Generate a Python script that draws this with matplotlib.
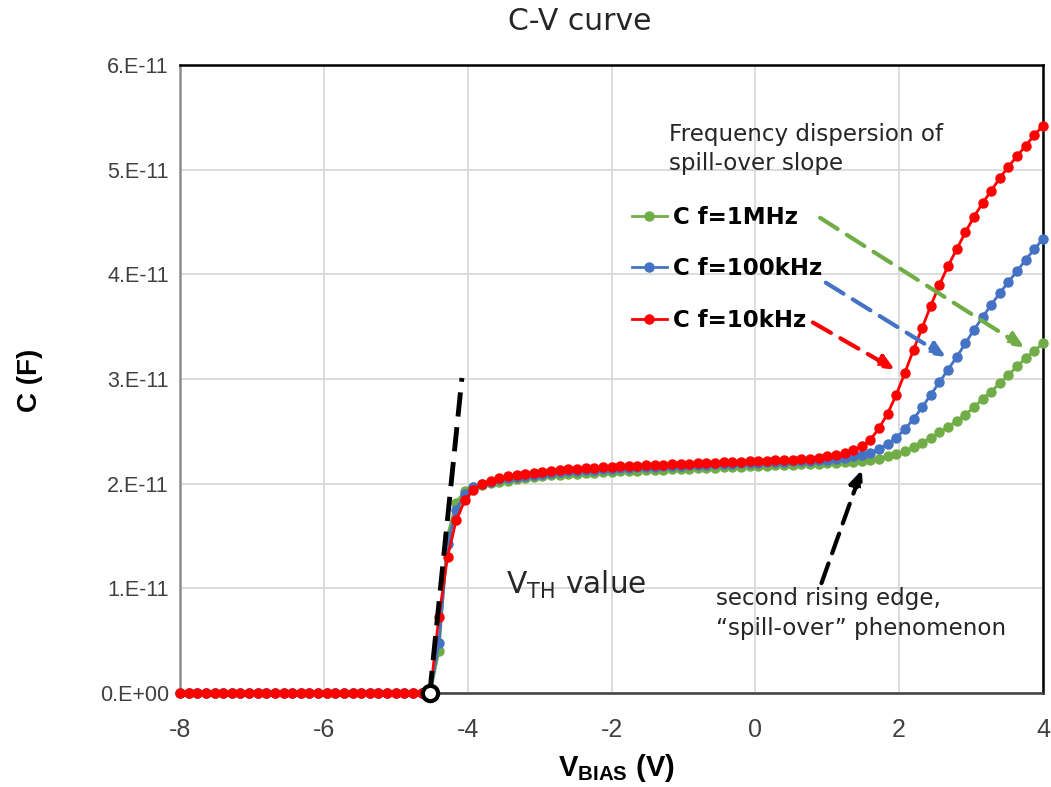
import numpy as np
import matplotlib
matplotlib.use('Agg')
import matplotlib.pyplot as plt
from matplotlib import font_manager

# bias sweep (V), 0.12 V steps
v_bias = [-8.00, -7.88, -7.76, -7.64, -7.52, -7.40, -7.28, -7.16, -7.04, -6.92,
          -6.80, -6.68, -6.56, -6.44, -6.32, -6.20, -6.08, -5.96, -5.84, -5.72,
          -5.60, -5.48, -5.36, -5.24, -5.12, -5.00, -4.88, -4.76, -4.64, -4.52,
          -4.40, -4.28, -4.16, -4.04, -3.92, -3.80, -3.68, -3.56, -3.44, -3.32,
          -3.20, -3.08, -2.96, -2.84, -2.72, -2.60, -2.48, -2.36, -2.24, -2.12,
          -2.00, -1.88, -1.76, -1.64, -1.52, -1.40, -1.28, -1.16, -1.04, -0.92,
          -0.80, -0.68, -0.56, -0.44, -0.32, -0.20, -0.08, 0.04, 0.16, 0.28,
          0.40, 0.52, 0.64, 0.76, 0.88, 1.00, 1.12, 1.24, 1.36, 1.48,
          1.60, 1.72, 1.84, 1.96, 2.08, 2.20, 2.32, 2.44, 2.56, 2.68,
          2.80, 2.92, 3.04, 3.16, 3.28, 3.40, 3.52, 3.64, 3.76, 3.88, 4.00]

# capacitance, in units of 1e-11 F
c_1mhz = [0]*30 + [
    0.40, 1.50, 1.82, 1.93, 1.97, 1.99, 2.01, 2.02, 2.03, 2.04,
    2.05, 2.06, 2.07, 2.08, 2.08, 2.09, 2.09, 2.10, 2.10, 2.11,
    2.11, 2.12, 2.12, 2.12, 2.13, 2.13, 2.13, 2.14, 2.14, 2.14,
    2.15, 2.15, 2.15, 2.16, 2.16, 2.16, 2.17, 2.17, 2.17, 2.18,
    2.18, 2.18, 2.19, 2.19, 2.19, 2.20, 2.20, 2.21, 2.21, 2.22,
    2.23, 2.24, 2.26, 2.28, 2.31, 2.35, 2.39, 2.44, 2.49, 2.54,
    2.60, 2.66, 2.73, 2.81, 2.88, 2.96, 3.04, 3.12, 3.20, 3.27, 3.34]
c_100khz = [0]*30 + [
    0.48, 1.42, 1.75, 1.90, 1.97, 2.00, 2.02, 2.04, 2.05, 2.06,
    2.07, 2.08, 2.09, 2.10, 2.11, 2.12, 2.12, 2.13, 2.13, 2.14,
    2.14, 2.15, 2.15, 2.16, 2.16, 2.16, 2.17, 2.17, 2.17, 2.18,
    2.18, 2.18, 2.19, 2.19, 2.19, 2.20, 2.20, 2.20, 2.21, 2.21,
    2.21, 2.22, 2.22, 2.22, 2.23, 2.23, 2.24, 2.25, 2.26, 2.27,
    2.29, 2.33, 2.38, 2.44, 2.52, 2.62, 2.73, 2.85, 2.97, 3.09,
    3.21, 3.34, 3.47, 3.59, 3.71, 3.82, 3.93, 4.03, 4.14, 4.24, 4.34]
c_10khz = [0]*30 + [
    0.73, 1.30, 1.65, 1.84, 1.94, 2.00, 2.03, 2.05, 2.07, 2.08,
    2.09, 2.10, 2.11, 2.12, 2.13, 2.14, 2.14, 2.15, 2.15, 2.16,
    2.16, 2.17, 2.17, 2.17, 2.18, 2.18, 2.18, 2.19, 2.19, 2.19,
    2.20, 2.20, 2.20, 2.21, 2.21, 2.21, 2.22, 2.22, 2.22, 2.23,
    2.23, 2.23, 2.24, 2.24, 2.25, 2.26, 2.27, 2.29, 2.32, 2.36,
    2.42, 2.53, 2.67, 2.85, 3.06, 3.28, 3.49, 3.70, 3.90, 4.08,
    4.24, 4.40, 4.55, 4.68, 4.80, 4.92, 5.03, 5.13, 5.23, 5.33, 5.42]

series_labels = ['C f=1MHz', 'C f=100kHz', 'C f=10kHz']
series_colors = ['#70AD47', '#4472C4', '#FF0000']

y_ticks = [0, 1e-11, 2e-11, 3e-11, 4e-11, 5e-11, 6e-11]
y_tick_labels = ['0.E+00', '1.E-11', '2.E-11', '3.E-11', '4.E-11', '5.E-11', '6.E-11']
x_ticks = [-8, -6, -4, -2, 0, 2, 4]

# annotation arrows: (start, end) in data units, y in 1e-11
arrows = [
    ((0.90, 4.54), (3.74, 3.30), '#70AD47'),
    ((0.98, 3.92), (2.65, 3.21), '#4472C4'),
    ((0.80, 3.54), (1.94, 3.09), '#FF0000'),
    ((0.92, 1.05), (1.48, 2.13), 'black'),
]
vth_line = ((-4.53, -0.02), (-4.08, 3.01))
vth_point = (-4.52, 0.0)

plt.rcParams['axes.unicode_minus'] = False

installed = {f.name for f in font_manager.fontManager.ttflist}
narrow = 'Liberation Sans Narrow' if 'Liberation Sans Narrow' in installed else 'Liberation Sans'
note_font = 'DejaVu Sans'

fig = plt.figure(figsize=(10.51, 7.87), dpi=100)
ax = fig.add_axes([180/1051, 94/787, 863/1051, 628/787])

x = np.array(v_bias)
for vals, lab, col in zip([c_1mhz, c_100khz, c_10khz], series_labels, series_colors):
    ax.plot(x, np.array(vals)*1e-11, '-o', color=col, lw=2, ms=6.5,
            label=lab, clip_on=False, zorder=3)

ax.set_xlim(-8, 4)
ax.set_ylim(0, 6e-11)
ax.set_xticks(x_ticks)
ax.set_yticks(y_ticks)
ax.set_yticklabels(y_tick_labels)
ax.grid(True, color='#d9d9d9', lw=1.3)
ax.set_axisbelow(True)
ax.tick_params(axis='both', length=0, colors='#404040')
ax.tick_params(axis='y', pad=8, labelsize=15.5)
ax.tick_params(axis='x', pad=18, labelsize=18)
for t in ax.get_yticklabels():
    t.set_fontfamily('Liberation Sans')
for t in ax.get_xticklabels():
    t.set_fontfamily(narrow)
ax.spines['left'].set_color('#8c8c8c')
ax.spines['bottom'].set_color('#404040')
ax.spines['top'].set_color('black')
ax.spines['right'].set_color('black')
for s in ax.spines.values():
    s.set_linewidth(1.8)

# dashed guide lines with arrow heads
for (x0, y0), (x1, y1), col in arrows:
    ax.annotate('', xy=(x1, y1*1e-11), xytext=(x0, y0*1e-11),
                arrowprops=dict(arrowstyle='-|>,head_length=0.9,head_width=0.4',
                                color=col, lw=3, linestyle=(0, (5, 2.6)),
                                shrinkA=0, shrinkB=0), zorder=4)

(lx0, ly0), (lx1, ly1) = vth_line
ax.plot([lx0, lx1], [ly0*1e-11, ly1*1e-11], color='black', lw=3.5,
        dashes=(5, 2.2), zorder=4, clip_on=False)
ax.plot([vth_point[0]], [vth_point[1]], 'o', ms=11, mfc='white', mec='black',
        mew=3, zorder=5, clip_on=False)

ax.text(-3.47, 1.03e-11, r'$\mathregular{V_{TH}}$ value', fontsize=21.3,
        family=note_font, color='#262626', va='center', ha='left')
ax.text(-1.20, 5.20e-11, 'Frequency dispersion of\nspill-over slope', fontsize=16.6,
        family=note_font, color='#262626', va='center', ha='left', linespacing=1.35)
ax.text(-0.55, 0.76e-11, 'second rising edge,\n\u201cspill-over\u201d phenomenon',
        fontsize=16.6, family=note_font, color='#262626', va='center', ha='left',
        linespacing=1.35)

leg = ax.legend(loc='upper left', bbox_to_anchor=(0.524, 0.776), frameon=False,
                borderpad=0, borderaxespad=0, handlelength=1.5, handletextpad=0.3,
                labelspacing=1.25, prop={'family': 'DejaVu Sans', 'weight': 'bold',
                                         'size': 16.5})

fig.text(580/1051, 1 - 22/787, 'C-V curve', fontsize=21.5, family=note_font,
         color='#262626', ha='center', va='center')
fig.text(30/1051, 1 - 380/787, 'C (F)', fontsize=20, family='Liberation Sans',
         weight='bold', rotation=90, ha='center', va='center')
fig.text(616/1051, 1 - 768/787, r'$\mathregular{V_{BIAS}}$ (V)', fontsize=21,
         family='Liberation Sans', weight='bold', ha='center', va='center')

fig.savefig('out.png', dpi=100)
